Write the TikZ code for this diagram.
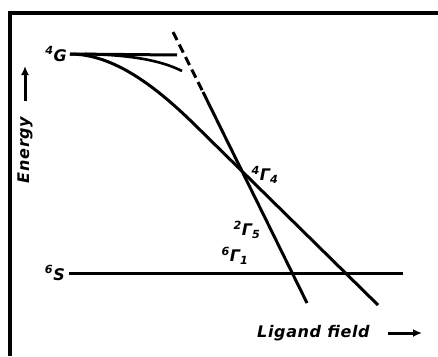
\documentclass[tikz,border=0pt]{standalone}
\usepackage{fontspec}
\setmainfont{DejaVu Sans}
\newfontfamily\lblfont[LetterSpace=4]{DejaVu Sans}
\usetikzlibrary{arrows.meta}
\begin{document}
\begin{tikzpicture}[x=1pt,y=-1pt,
  frame/.style={line width=3.4pt},
  curve/.style={line width=3pt},
  thincurve/.style={line width=2.6pt},
  lbl/.style={font=\lblfont\fontsize{16}{18}\selectfont\bfseries\itshape, inner sep=0pt},
  axarrow/.style={-{Latex[length=9pt,width=8pt]}}]
\useasboundingbox (0,0) rectangle (438,356);
% frame
\coordinate (F0) at (10,356);
\coordinate (F1) at (10,13);
\coordinate (F2) at (438,13);
\draw[frame] (F0) -- (F1) -- (F2);
% key points
\coordinate (G0) at (70,54);
\coordinate (Gend) at (177,55);
\coordinate (B0) at (85,54);
\coordinate (Bend) at (182,71);
\coordinate (K) at (193,123);
\coordinate (Aend) at (378,305);
\coordinate (D0) at (173,32);
\coordinate (D1) at (203,92);
\coordinate (Dend) at (307,303);
\coordinate (S0) at (69,273);
\coordinate (S1) at (403,273);
% lines
\draw[curve] (G0) -- (Gend);
\draw[thincurve] (B0) .. controls (130,55) and (160,60) .. (Bend);
\draw[curve] (G0) .. controls (115,54) and (158,89) .. (K) -- (Aend);
\draw[curve, dash pattern=on 9pt off 5pt] (D0) -- (D1);
\draw[curve] (D1) -- (Dend);
\draw[curve] (S0) -- (S1);
% labels
\node[lbl, anchor=east] (G) at (67,54) {\textsuperscript{4}G};
\node[lbl, anchor=east] (S) at (65,273) {\textsuperscript{6}S};
\node[lbl] (T4) at (265,175) {\textsuperscript{4}Γ\textsubscript{4}};
\node[lbl] (T5) at (247,230) {\textsuperscript{2}Γ\textsubscript{5}};
\node[lbl] (T1) at (235,256) {\textsuperscript{6}Γ\textsubscript{1}};
\node[lbl, rotate=90] (E) at (25,150) {Energy};
\coordinate (EA0) at (25,101);
\coordinate (EA1) at (25,66);
\draw[line width=3pt, axarrow] (EA0) -- (EA1);
\node[lbl, anchor=west] (L) at (257,333) {Ligand field};
\coordinate (LA0) at (388,333);
\coordinate (LA1) at (422,333);
\draw[line width=3pt, axarrow] (LA0) -- (LA1);
\end{tikzpicture}
\end{document}
